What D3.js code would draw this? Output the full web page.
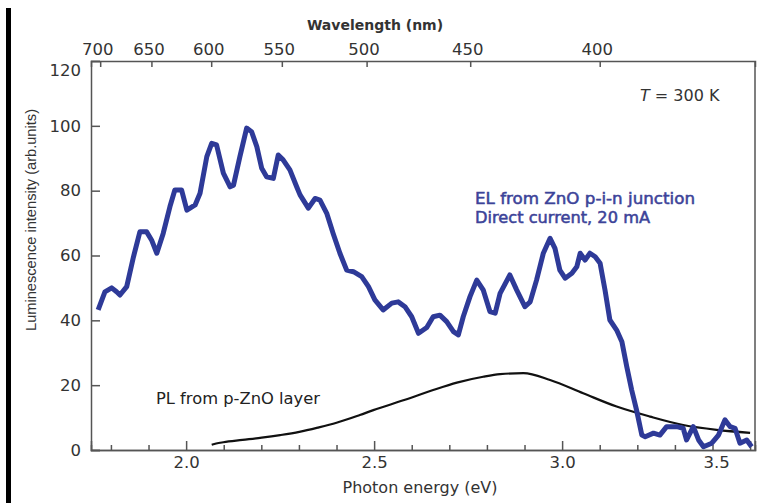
<!DOCTYPE html>
<html>
<head>
<meta charset="utf-8">
<script src="https://cdn.jsdelivr.net/npm/d3@7/dist/d3.min.js"></script>
<style>
  body { margin: 0; background: #fff; }
  svg { display: block; font-family: "DejaVu Sans", "Liberation Sans", sans-serif; }
  .axis text { font-size: 16.5px; fill: #333; font-family: "DejaVu Sans", sans-serif; }
  .axis path, .axis line { stroke: #555; stroke-width: 1.5; }
</style>
</head>
<body>
<svg id="chart" width="771" height="503"></svg>
<script>
// EL spectrum, ZnO p-i-n junction (photon energy eV, intensity)
var elEnergy = [1.766, 1.784, 1.802, 1.815, 1.824, 1.842, 1.860, 1.877, 1.895, 1.908,
  1.922, 1.939, 1.957, 1.970, 1.988, 2.002, 2.024, 2.037, 2.055, 2.068,
  2.081, 2.099, 2.117, 2.126, 2.143, 2.161, 2.174, 2.188, 2.201, 2.214,
  2.232, 2.245, 2.258, 2.276, 2.294, 2.303, 2.325, 2.343, 2.356, 2.374,
  2.391, 2.409, 2.427, 2.445, 2.467, 2.485, 2.502, 2.524, 2.547, 2.564,
  2.582, 2.600, 2.618, 2.640, 2.657, 2.675, 2.693, 2.711, 2.724, 2.737,
  2.755, 2.773, 2.790, 2.808, 2.822, 2.835, 2.861, 2.879, 2.901, 2.915,
  2.932, 2.950, 2.968, 2.981, 2.994, 3.008, 3.026, 3.039, 3.048, 3.061,
  3.074, 3.088, 3.101, 3.114, 3.127, 3.145, 3.159, 3.172, 3.185, 3.198,
  3.212, 3.221, 3.243, 3.260, 3.278, 3.305, 3.322, 3.331, 3.349, 3.363,
  3.376, 3.398, 3.416, 3.433, 3.447, 3.460, 3.473, 3.491, 3.504];
var elIntensity = [43.2, 48.8, 50.0, 48.8, 47.8, 50.4, 59.6, 67.3, 67.3, 64.8,
  60.7, 66.8, 75.1, 80.2, 80.2, 74.0, 75.6, 79.2, 90.5, 94.6,
  94.1, 85.4, 81.2, 81.7, 90.5, 99.3, 98.2, 93.6, 86.9, 84.3,
  83.8, 91.0, 89.5, 86.4, 81.2, 78.7, 74.6, 77.6, 77.1, 73.0,
  66.8, 60.7, 55.5, 55.0, 53.5, 50.4, 46.3, 43.2, 45.3, 45.7,
  44.2, 41.1, 36.0, 37.8, 41.1, 41.6, 39.6, 36.5, 35.5, 41.1,
  47.3, 52.4, 49.4, 42.7, 42.2, 48.3, 54.0, 49.4, 44.2, 45.7,
  52.4, 60.7, 65.3, 62.2, 55.5, 53.0, 54.5, 56.5, 60.7, 58.6,
  60.7, 59.6, 57.6, 49.4, 40.1, 37.0, 33.4, 25.7, 18.5, 12.3,
  4.6, 4.1, 5.2, 4.6, 7.2, 7.2, 6.7, 3.1, 7.2, 3.1,
  1.0, 2.1, 4.6, 9.3, 7.2, 6.7, 2.1, 3.1, 1.0];

// PL spectrum, p-ZnO layer
var plEnergy = [2.068, 2.080, 2.099, 2.150, 2.201, 2.250, 2.301, 2.350, 2.400, 2.462,
  2.498, 2.580, 2.657, 2.720, 2.790, 2.835, 2.897, 2.968, 3.056, 3.145,
  3.234, 3.322, 3.411, 3.500];
var plIntensity = [1.6, 2.0, 2.4, 3.1, 3.8, 4.6, 5.6, 6.9, 8.4, 10.8,
  12.3, 15.4, 18.5, 20.8, 22.6, 23.4, 23.7, 21.6, 17.5, 13.4,
  10.3, 7.7, 6.2, 5.3];

var energyTicks = [2.0, 2.5, 3.0, 3.5];
var energyMinor = [1.8, 1.9, 2.1, 2.2, 2.3, 2.4, 2.6, 2.7, 2.8, 2.9, 3.1, 3.2, 3.3, 3.4];
var wavelengthTicks = [700, 650, 600, 550, 500, 450, 400];
var intensityTicks = [0, 20, 40, 60, 80, 100, 120];

var svg = d3.select('#chart');
var plotL = 91, plotR = 755, plotT = 61, plotB = 450;

var x = d3.scaleLinear().domain([1.747, 3.513]).range([plotL, plotR]);
var y = d3.scaleLinear().domain([0, 120]).range([plotB, plotT]);

// dark bar along the left edge of the scan
svg.append('rect').attr('x', 6).attr('y', 8).attr('width', 5).attr('height', 495).attr('fill', '#000');

// bottom axis: minor ticks then major ticks with labels
svg.append('g').attr('class', 'axis')
  .attr('transform', 'translate(0,' + plotB + ')')
  .call(d3.axisBottom(x).tickValues(energyMinor).tickSize(-5).tickFormat(''));
var bx = svg.append('g').attr('class', 'axis')
  .attr('transform', 'translate(0,' + plotB + ')')
  .call(d3.axisBottom(x).tickValues(energyTicks).tickSize(-9).tickPadding(6)
    .tickFormat(d3.format('.1f')));
// the last label sits inside the frame in the original
bx.selectAll('.tick text').filter(function(d) { return d === 3.5; }).attr('dx', -34);

// top axis: wavelength, 1240/λ on the energy scale
svg.append('g').attr('class', 'axis')
  .attr('transform', 'translate(0,' + plotT + ')')
  .call(d3.axisTop(x).tickValues(wavelengthTicks.map(function(w) { return 1240 / w; }))
    .tickSize(-6).tickPadding(6)
    .tickFormat(function(d, i) { return wavelengthTicks[i]; }))
  .selectAll('.tick text').attr('dx', -3);

// left axis
var ly = svg.append('g').attr('class', 'axis')
  .attr('transform', 'translate(' + plotL + ',0)')
  .call(d3.axisLeft(y).tickValues(intensityTicks).tickSize(-9).tickPadding(10));
ly.selectAll('.tick text').filter(function(d) { return d === 120; }).attr('dy', '0.85em');

// right edge of frame
svg.append('line')
  .attr('x1', plotR).attr('x2', plotR).attr('y1', plotT).attr('y2', plotB)
  .attr('stroke', '#555').attr('stroke-width', 1.5);

var line = d3.line()
  .x(function(d) { return x(d[0]); })
  .y(function(d) { return y(d[1]); });

svg.append('path')
  .datum(d3.zip(plEnergy, plIntensity))
  .attr('d', line.curve(d3.curveMonotoneX))
  .attr('fill', 'none').attr('stroke', '#111').attr('stroke-width', 2.2);

svg.append('path')
  .datum(d3.zip(elEnergy, elIntensity))
  .attr('d', line.curve(d3.curveLinear))
  .attr('fill', 'none').attr('stroke', '#2e3a98').attr('stroke-width', 5)
  .attr('stroke-linejoin', 'round');

// axis titles
svg.append('text').attr('x', 375).attr('y', 30).attr('text-anchor', 'middle')
  .style('font-size', '14px').style('font-weight', 'bold').style('fill', '#333')
  .text('Wavelength (nm)');
svg.append('text').attr('x', 420).attr('y', 493).attr('text-anchor', 'middle')
  .style('font-size', '16px').style('fill', '#333')
  .text('Photon energy (eV)');
svg.append('text')
  .attr('transform', 'translate(36,220) rotate(-90)').attr('text-anchor', 'middle')
  .style('font-size', '15px').style('fill', '#333')
  .style('font-family', '"Liberation Sans Narrow", "Liberation Sans", sans-serif')
  .attr('textLength', 222).attr('lengthAdjust', 'spacingAndGlyphs')
  .text('Luminescence intensity (arb.units)');

// annotations
var t = svg.append('text').attr('x', 640).attr('y', 101)
  .style('font-size', '16px').style('fill', '#333');
t.append('tspan').style('font-style', 'italic').text('T');
t.append('tspan').text(' = 300 K');

svg.append('text').attr('x', 475).attr('y', 204)
  .style('font-size', '15px').style('fill', '#3c4399')
  .style('stroke', '#3c4399').style('stroke-width', 0.5)
  .attr('textLength', 220).attr('lengthAdjust', 'spacingAndGlyphs')
  .text('EL from ZnO p-i-n junction');
svg.append('text').attr('x', 475).attr('y', 223)
  .style('font-size', '15px').style('fill', '#3c4399')
  .style('stroke', '#3c4399').style('stroke-width', 0.5)
  .attr('textLength', 175).attr('lengthAdjust', 'spacingAndGlyphs')
  .text('Direct current, 20 mA');
svg.append('text').attr('x', 156).attr('y', 404)
  .style('font-size', '15px').style('fill', '#222')
  .attr('textLength', 164).attr('lengthAdjust', 'spacingAndGlyphs')
  .text('PL from p-ZnO layer');
</script>
</body>
</html>
